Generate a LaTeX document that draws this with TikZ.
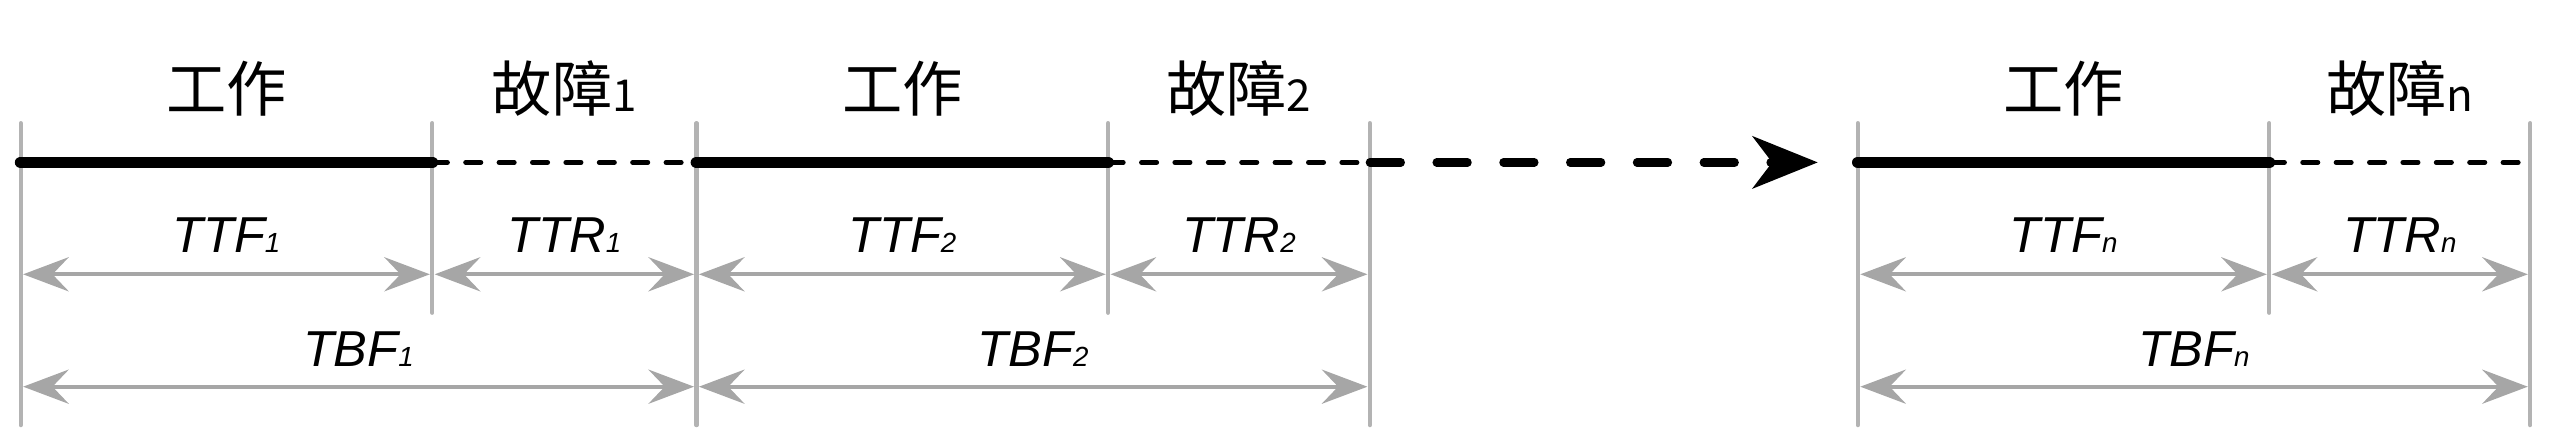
\documentclass[tikz,border=0pt]{standalone}
\usepackage{fontspec}
\setmainfont{Liberation Sans}
\newfontfamily\cjk{Noto Sans CJK SC}
\usetikzlibrary{arrows.meta}
\definecolor{tickgray}{HTML}{B3B3B3}
\definecolor{dimgray}{HTML}{A6A6A6}
\newcommand{\subnum}[1]{{\fontsize{27}{27}\selectfont #1}}
\newcommand{\subit}[1]{{\fontsize{17}{17}\selectfont #1}}

\begin{document}
\begin{tikzpicture}[x=1pt, y=-1pt,
    bar/.style={draw=tickgray, line width=2.6pt, line cap=round},
    worked/.style={line width=7.2pt, line cap=round},
    repair/.style={line width=3pt, line cap=round, dash pattern=on 9.3pt off 11.2pt},
    gap/.style={line width=5.1pt, line cap=round, dash pattern=on 19pt off 22pt,
      -{Stealth[length=40pt, width=32pt, inset=12pt]}},
    dimline/.style={draw=dimgray, line width=2.4pt, shorten <=1.5pt, shorten >=1.5pt,
      {Stealth[length=28pt, width=21pt, inset=10pt]}-{Stealth[length=28pt, width=21pt, inset=10pt]}},
    phase/.style={font=\fontsize{37}{40}\selectfont, anchor=base, inner sep=0pt},
    period/.style={font=\fontsize{31}{34}\selectfont\itshape, anchor=base, inner sep=0pt}]

    \useasboundingbox (0, 0) rectangle (1568, 270.75);

    \coordinate (t0) at (12.7, 75.6);
    \coordinate (t1) at (265.4, 75.6);
    \coordinate (t2) at (427.6, 75.6);
    \coordinate (t3) at (680.3, 75.6);
    \coordinate (t4) at (841, 75.6);
    \coordinate (t5) at (1140.6, 75.6);
    \coordinate (t6) at (1393.2, 75.6);
    \coordinate (t7) at (1553.4, 75.6);
    \coordinate (b0) at (12.7, 261);
    \coordinate (b1) at (265.4, 192);
    \coordinate (b2) at (427.6, 261);
    \coordinate (b3) at (680.3, 192);
    \coordinate (b4) at (841, 261);
    \coordinate (b5) at (1140.6, 261);
    \coordinate (b6) at (1393.2, 192);
    \coordinate (b7) at (1553.4, 261);
    \coordinate (m0) at (12.7, 99.7);
    \coordinate (m1) at (265.4, 99.7);
    \coordinate (m2) at (427.6, 99.7);
    \coordinate (m3) at (680.3, 99.7);
    \coordinate (m4) at (841, 99.7);
    \coordinate (e) at (1116, 99.7);
    \coordinate (m5) at (1140.6, 99.7);
    \coordinate (m6) at (1393.2, 99.7);
    \coordinate (m7) at (1553.4, 99.7);
    \coordinate (f0) at (12.7, 168.4);
    \coordinate (f1) at (265.4, 168.4);
    \coordinate (f2) at (427.6, 168.4);
    \coordinate (f3) at (680.3, 168.4);
    \coordinate (f4) at (841, 168.4);
    \coordinate (f5) at (1140.6, 168.4);
    \coordinate (f6) at (1393.2, 168.4);
    \coordinate (f7) at (1553.4, 168.4);
    \coordinate (g0) at (12.7, 237.4);
    \coordinate (g2) at (427.6, 237.4);
    \coordinate (g4) at (841, 237.4);
    \coordinate (g5) at (1140.6, 237.4);
    \coordinate (g7) at (1553.4, 237.4);

    \node[phase] (w1) at (139, 68.6) {\cjk 工作};
    \node[phase] (r1) at (346.5, 68.6) {\cjk 故障\subnum{1}};
    \node[phase] (w2) at (554, 68.6) {\cjk 工作};
    \node[phase] (r2) at (760.6, 68.6) {\cjk 故障\subnum{2}};
    \node[phase] (w3) at (1266.9, 68.6) {\cjk 工作};
    \node[phase] (r3) at (1473.3, 68.6) {\cjk 故障\subnum{n}};
    \node[period] (ttf1) at (139, 155) {TTF\subit{1}};
    \node[period] (ttr1) at (346.5, 155) {TTR\subit{1}};
    \node[period] (ttf2) at (554, 155) {TTF\subit{2}};
    \node[period] (ttr2) at (760.6, 155) {TTR\subit{2}};
    \node[period] (ttf3) at (1266.9, 155) {TTF\subit{n}};
    \node[period] (ttr3) at (1473.3, 155) {TTR\subit{n}};
    \node[period] (tbf1) at (220.1, 225) {TBF\subit{1}};
    \node[period] (tbf2) at (634.3, 225) {TBF\subit{2}};
    \node[period] (tbf3) at (1347, 225) {TBF\subit{n}};

    \draw [bar] (t0) -- (b0);
    \draw [bar] (t1) -- (b1);
    \draw [bar] (t2) -- (b2);
    \draw [bar] (t3) -- (b3);
    \draw [bar] (t4) -- (b4);
    \draw [bar] (t5) -- (b5);
    \draw [bar] (t6) -- (b6);
    \draw [bar] (t7) -- (b7);

    \draw [worked] (m0) -- (m1);
    \draw [repair] (m1) -- (m2);
    \draw [worked] (m2) -- (m3);
    \draw [repair] (m3) -- (m4);
    \draw [gap] (m4) -- (e);
    \draw [worked] (m5) -- (m6);
    \draw [repair] (m6) -- (m7);

    \draw [dimline] (f0) -- (f1);
    \draw [dimline] (f1) -- (f2);
    \draw [dimline] (f2) -- (f3);
    \draw [dimline] (f3) -- (f4);
    \draw [dimline] (f5) -- (f6);
    \draw [dimline] (f6) -- (f7);
    \draw [dimline] (g0) -- (g2);
    \draw [dimline] (g2) -- (g4);
    \draw [dimline] (g5) -- (g7);

\end{tikzpicture}
\end{document}
